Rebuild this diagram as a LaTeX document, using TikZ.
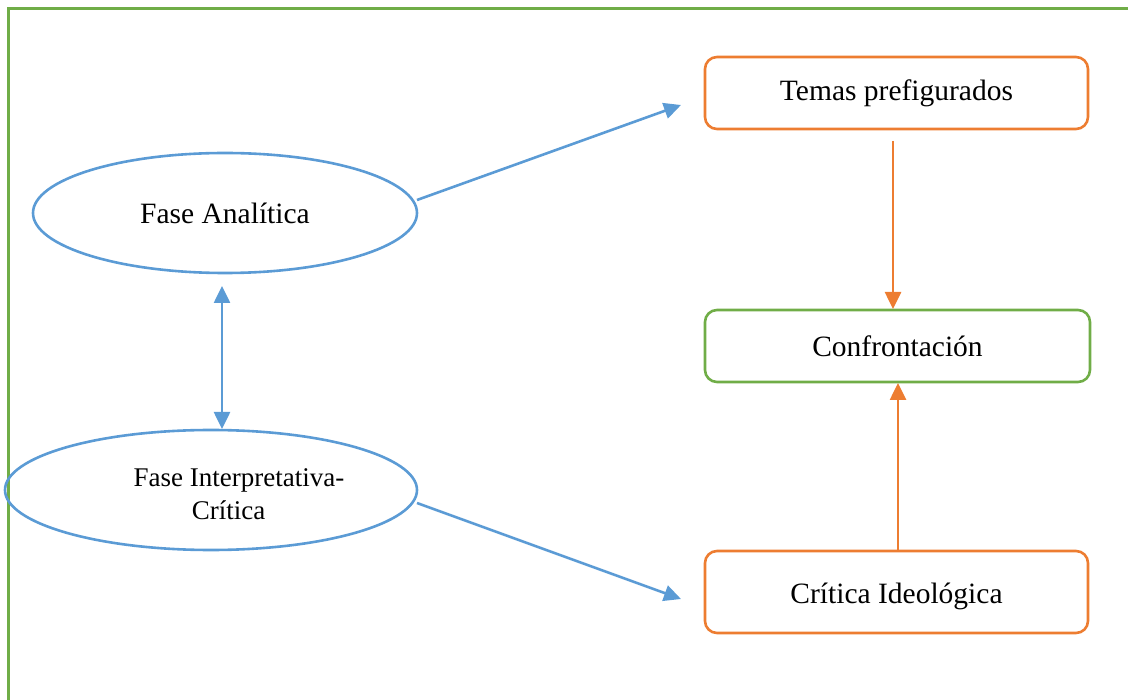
\documentclass[tikz,border=0pt]{standalone}
\usepackage{fontspec}
\setmainfont{Liberation Serif}
\usetikzlibrary{shapes.geometric,arrows.meta}
\definecolor{fblue}{HTML}{5B9BD5}
\definecolor{forange}{HTML}{ED7D31}
\definecolor{fgreen}{HTML}{70AD47}
\begin{document}
\begin{tikzpicture}[x=1pt,y=-1pt,
  every node/.style={font=\fontsize{29.5}{33}\selectfont},
  ell/.style={ellipse,draw=fblue,line width=2.6pt,inner sep=0pt},
  obox/.style={draw=forange,line width=2.6pt,rounded corners=12pt,minimum width=383pt,minimum height=72pt,inner sep=0pt},
  gbox/.style={draw=fgreen,line width=2.6pt,rounded corners=12pt,minimum width=385pt,minimum height=72pt,inner sep=0pt},
  barrow/.style={draw=fblue,line width=2.6pt,-{Triangle[length=17pt,width=16pt]}},
  oarrow/.style={draw=forange,line width=2.6pt,-{Triangle[length=17pt,width=16pt]}}]
\useasboundingbox (0,0) rectangle (1128,700);
\draw[fgreen,line width=3pt] (8.5,710) -- (8.5,8.5) -- (1140,8.5);
\node[ell,minimum width=384pt,minimum height=120pt] (fa) at (225,213) {};
\node (fatext) at (225,213) {Fase Analítica};
\node[ell,minimum width=412pt,minimum height=120pt] (fi) at (211,490) {};
\node[align=center,font=\fontsize{27}{33}\selectfont] (fitext) at (239,494) {Fase Interpretativa-\\\hspace*{-21pt}Crítica};
\node[obox] (tp) at (896.5,93) {Temas prefigurados};
\node[gbox] (co) at (897.5,346) {Confrontación};
\node[obox,minimum height=82pt] (ci) at (896.5,592) {};
\node (citext) at (896.5,596) {Crítica Ideológica};
\coordinate (a1s) at (417,200);
\coordinate (a1e) at (681,105);
\coordinate (a2s) at (417,503);
\coordinate (a2e) at (681,599);
\coordinate (dvs) at (222,286);
\coordinate (dve) at (222,429);
\coordinate (o1s) at (893,141);
\coordinate (o1e) at (893,309);
\coordinate (o2s) at (898,550);
\coordinate (o2e) at (898,383);
\draw[barrow] (a1s) -- (a1e);
\draw[barrow] (a2s) -- (a2e);
\draw[barrow,{Triangle[length=17pt,width=16pt]}-{Triangle[length=17pt,width=16pt]}] (dvs) -- (dve);
\draw[oarrow] (o1s) -- (o1e);
\draw[oarrow] (o2s) -- (o2e);
\end{tikzpicture}
\end{document}
